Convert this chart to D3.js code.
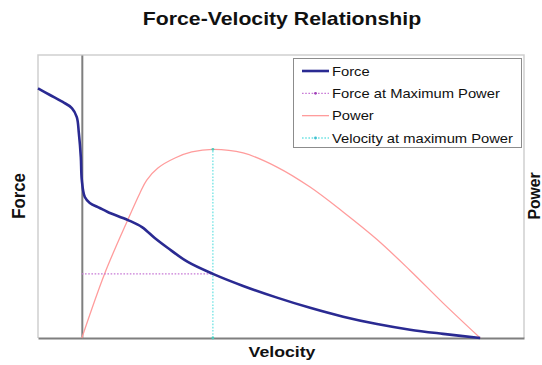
<!DOCTYPE html>
<html>
<head>
<meta charset="utf-8">
<script src="https://cdn.jsdelivr.net/npm/d3@7"></script>
<style>
  body { margin: 0; background: #fff; }
  svg { display: block; }
  text { font-family: Arial, "Liberation Sans", Helvetica, sans-serif; fill: #111; }
</style>
</head>
<body>
<svg id="chart" width="542" height="365"></svg>
<script>
// Relative shortening velocity (v / vmax); negative values are lengthening
const forceVelocity = [-0.11, -0.080, -0.048, -0.025, -0.0126, -0.0075, -0.0025, 0, 0.0075, 0.020,
  0.045, 0.065, 0.116, 0.151, 0.183, 0.216, 0.266, 0.329, 0.405, 0.490, 0.573, 0.656,
  0.741, 0.824, 0.907, 1.0];
// Relative force at each velocity
const forceValues = [1.323, 1.288, 1.251, 1.219, 1.171, 1.087, 0.959, 0.837, 0.747, 0.716,
  0.689, 0.668, 0.625, 0.588, 0.530, 0.477, 0.403, 0.340, 0.276, 0.214, 0.160, 0.113,
  0.074, 0.044, 0.022, 0];

// Power over the shortening range
const powerVelocity = [0, 0.058, 0.113, 0.146, 0.163, 0.191, 0.234, 0.276, 0.329, 0.405, 0.490,
  0.573, 0.656, 0.741, 0.824, 0.907, 1.0];
const powerValues = [0, 0.345, 0.615, 0.769, 0.837, 0.901, 0.954, 0.986, 1.0, 0.981, 0.906,
  0.800, 0.668, 0.522, 0.358, 0.185, 0];

// Operating point at peak power
const peakVelocity = 0.329;
const forceAtPeak = 0.340;
const peakPower = 1.0;

const legendLabels = ["Force", "Force at Maximum Power", "Power", "Velocity at maximum Power"];
const titleText = "Force-Velocity Relationship";
const xLabel = "Velocity";
const yLabel = "Force";
const y2Label = "Power";

const svg = d3.select("#chart");
const frame = { left: 38, right: 524, top: 55, bottom: 338 };
const textStretch = 1.18;

const x = d3.scaleLinear().domain([-0.11, 1.11]).range([frame.left, frame.right]);
const yF = d3.scaleLinear().domain([0, 1.5]).range([frame.bottom, frame.top]);
const yP = d3.scaleLinear().domain([0, 1.5]).range([frame.bottom, frame.top]);

const colors = {
  force: "#2a2a92",
  forcePeak: "#c87ad6",
  power: "#ff9c9c",
  velPeak: "#6fe3e3",
  frame: "#cfcfcf",
  axis: "#7f7f7f"
};

const smooth = d3.curveCatmullRom.alpha(0.5);

// Plot frame (light border on left, top and right)
svg.append("path")
  .attr("d", `M${frame.left},${frame.bottom} V${frame.top} H${frame.right} V${frame.bottom}`)
  .attr("fill", "none")
  .attr("stroke", colors.frame)
  .attr("stroke-width", 1.5);

// Zero-velocity axis
svg.append("g")
  .attr("transform", `translate(${x(0)},0)`)
  .call(d3.axisLeft(yF).tickValues([]).tickSizeOuter(0))
  .call(g => g.select(".domain").attr("stroke", colors.axis).attr("stroke-width", 2));

// Velocity axis
svg.append("g")
  .attr("transform", `translate(0,${frame.bottom})`)
  .call(d3.axisBottom(x).tickValues([]).tickSizeOuter(0))
  .call(g => g.select(".domain").attr("stroke", colors.axis).attr("stroke-width", 2));

const forceData = forceVelocity.map((v, i) => [v, forceValues[i]]);
const powerData = powerVelocity.map((v, i) => [v, powerValues[i]]);

// Power curve
svg.append("path")
  .datum(powerData)
  .attr("fill", "none")
  .attr("stroke", colors.power)
  .attr("stroke-width", 1.3)
  .attr("d", d3.line().x(d => x(d[0])).y(d => yP(d[1])).curve(smooth));

// Force at maximum power (horizontal guide)
const forcePeakLine = [[0, forceAtPeak], [peakVelocity, forceAtPeak]];
svg.append("path")
  .datum(forcePeakLine)
  .attr("fill", "none")
  .attr("stroke", colors.forcePeak)
  .attr("stroke-width", 1.3)
  .attr("stroke-dasharray", "1.6,1.6")
  .attr("d", d3.line().x(d => x(d[0])).y(d => yF(d[1])));

// Velocity at maximum power (vertical guide)
const velPeakLine = [[peakVelocity, 0], [peakVelocity, peakPower]];
svg.append("path")
  .datum(velPeakLine)
  .attr("fill", "none")
  .attr("stroke", colors.velPeak)
  .attr("stroke-width", 1.3)
  .attr("stroke-dasharray", "1.6,1.6")
  .attr("d", d3.line().x(d => x(d[0])).y(d => yP(d[1])));

svg.selectAll("circle.vpeak")
  .data(velPeakLine)
  .join("circle")
  .attr("class", "vpeak")
  .attr("cx", d => x(d[0]))
  .attr("cy", d => yP(d[1]))
  .attr("r", 1.4)
  .attr("fill", "#4fc9b9");

// Force curve
svg.append("path")
  .datum(forceData)
  .attr("fill", "none")
  .attr("stroke", colors.force)
  .attr("stroke-width", 2.6)
  .attr("stroke-linejoin", "round")
  .attr("d", d3.line().x(d => x(d[0])).y(d => yF(d[1])).curve(smooth));

// Horizontally widened text helper
function label(parent, str, px, py, opts) {
  const o = Object.assign({ size: 12, weight: "normal", anchor: "start", rotate: 0, sx: textStretch, sy: 1 }, opts);
  return parent.append("text")
    .attr("transform", `translate(${px},${py}) rotate(${o.rotate}) scale(${o.sx},${o.sy})`)
    .attr("text-anchor", o.anchor)
    .attr("font-size", o.size)
    .attr("font-weight", o.weight)
    .attr("dy", o.dy || 0)
    .text(str);
}

// Title and axis labels
label(svg, titleText, 282, 25, { size: 18, weight: "bold", anchor: "middle" });
label(svg, xLabel, 282, 357, { size: 15, weight: "bold", anchor: "middle" });
label(svg, yLabel, 25, 196, { size: 16, weight: "bold", anchor: "middle", rotate: -90, sx: 1.05, sy: 1.1 });
label(svg, y2Label, 540, 196, { size: 15, weight: "bold", anchor: "middle", rotate: -90, sx: 1.05, sy: 1.05 });

// Legend
const legend = svg.append("g");
legend.append("rect")
  .attr("x", 293.5).attr("y", 58.5)
  .attr("width", 228).attr("height", 89)
  .attr("fill", "#fff")
  .attr("stroke", "#8c8c8c")
  .attr("stroke-width", 1);

const legendStyles = [
  { color: colors.force, width: 2.6, dash: null, dot: null },
  { color: colors.forcePeak, width: 1.3, dash: "1.6,1.6", dot: "#a040b8" },
  { color: colors.power, width: 1.3, dash: null, dot: null },
  { color: colors.velPeak, width: 1.3, dash: "1.6,1.6", dot: "#3fbfd0" }
];
const rowY = d3.scalePoint().domain(legendLabels).range([71, 138]);

legendLabels.forEach((name, i) => {
  const st = legendStyles[i];
  const yy = rowY(name);
  legend.append("line")
    .attr("x1", 302).attr("x2", 329)
    .attr("y1", yy).attr("y2", yy)
    .attr("stroke", st.color)
    .attr("stroke-width", st.width)
    .attr("stroke-dasharray", st.dash);
  if (st.dot) {
    legend.append("circle").attr("cx", 315.5).attr("cy", yy).attr("r", 1.4).attr("fill", st.dot);
  }
  label(legend, name, 332, yy, { size: 12.5, dy: "0.36em" }).attr("fill", "#222");
});
</script>
</body>
</html>
